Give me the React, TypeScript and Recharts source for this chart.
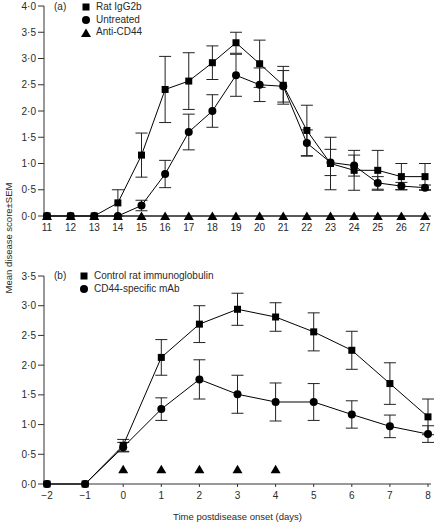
import React from 'react';
import { LineChart, Line, XAxis, YAxis, ErrorBar } from 'recharts';

// ---- Panel (a) data ----
const daysA = [11, 12, 13, 14, 15, 16, 17, 18, 19, 20, 21, 22, 23, 24, 25, 26, 27];
const ratIgG2b = [0, 0, 0, 0.25, 1.16, 2.41, 2.57, 2.92, 3.3, 2.9, 2.49, 1.63, 1.0, 0.87, 0.87, 0.75, 0.75];
const ratIgG2bErr = [0, 0, 0, 0.25, 0.42, 0.63, 0.54, 0.32, 0.2, 0.45, 0.36, 0.48, 0.5, 0.38, 0.38, 0.25, 0.25];
const untreated = [0, 0, 0, 0, 0.2, 0.8, 1.6, 2.0, 2.68, 2.5, 2.47, 1.39, 1.02, 0.96, 0.63, 0.57, 0.54];
const untreatedErr = [0, 0, 0, 0, 0.1, 0.26, 0.34, 0.31, 0.4, 0.32, 0.3, 0.25, 0.25, 0.2, 0.12, 0.07, 0.05];
const antiCD44 = [0, 0, 0, 0, 0, 0, 0, 0, 0, 0, 0, 0, 0, 0, 0, 0, 0];
const ticksA = [0, 0.5, 1, 1.5, 2, 2.5, 3, 3.5, 4];

// ---- Panel (b) data ----
const daysB = [-2, -1, 0, 1, 2, 3, 4, 5, 6, 7, 8];
const controlIg = [0, 0, 0.65, 2.13, 2.69, 2.94, 2.81, 2.56, 2.25, 1.69, 1.13];
const controlIgErr = [0, 0, 0.1, 0.3, 0.31, 0.27, 0.24, 0.32, 0.32, 0.35, 0.3];
const cd44mAb = [0, 0, 0.62, 1.26, 1.76, 1.51, 1.38, 1.38, 1.17, 0.97, 0.84];
const cd44mAbErr = [0, 0, 0.08, 0.19, 0.33, 0.32, 0.32, 0.31, 0.23, 0.19, 0.14];
const triangleB = [null, null, 0.25, 0.25, 0.25, 0.25, 0.25, null, null, null, null];
const ticksB = [0, 0.5, 1, 1.5, 2, 2.5, 3, 3.5];

const legendA = [
  { name: 'Rat IgG2b', shape: 'square' },
  { name: 'Untreated', shape: 'circle' },
  { name: 'Anti-CD44', shape: 'triangle' },
];
const legendB = [
  { name: 'Control rat immunoglobulin', shape: 'square' },
  { name: 'CD44-specific mAb', shape: 'circle' },
];

const dataA = daysA.map((d, i) => ({
  day: d,
  rat: ratIgG2b[i],
  ratErr: ratIgG2bErr[i],
  untr: untreated[i],
  untrErr: untreatedErr[i],
  anti: antiCD44[i],
}));

const dataB = daysB.map((d, i) => ({
  day: d,
  ctrl: controlIg[i],
  ctrlErr: controlIgErr[i],
  cd44: cd44mAb[i],
  cd44Err: cd44mAbErr[i],
  tri: triangleB[i],
}));

const FONT = '"Liberation Sans", Arial, Helvetica, sans-serif';
const TEXT = '#2a2a2a';
const AXIS = '#333';

const fmt = (v: number) => v.toFixed(1).replace('.', '\u00b7');

const SquareDot = (props: any) => {
  const { cx, cy } = props;
  if (cx == null || cy == null || isNaN(cy)) return <g />;
  return <rect x={cx - 3.5} y={cy - 3.5} width={7} height={7} fill="#000" />;
};
const TriangleDot = (props: any) => {
  const { cx, cy } = props;
  if (cx == null || cy == null || isNaN(cy)) return <g />;
  return <path d={`M${cx},${cy - 4.5}L${cx + 5},${cy + 4}L${cx - 5},${cy + 4}Z`} fill="#000" />;
};

const Icon = ({ shape }: { shape: string }) => (
  <svg width={10} height={10} style={{ display: 'inline-block', verticalAlign: 'middle', marginRight: 5 }}>
    {shape === 'square' && <rect x={1.5} y={1.5} width={7} height={7} fill="#000" />}
    {shape === 'circle' && <circle cx={5} cy={5} r={4} fill="#000" />}
    {shape === 'triangle' && <path d="M5,0.5L10,9L0,9Z" fill="#000" />}
  </svg>
);

const LegendBox = ({ items, top, left }: { items: { name: string; shape: string }[]; top: number; left: number }) => (
  <div style={{ position: 'absolute', top, left, fontFamily: FONT, fontSize: 10, color: TEXT, lineHeight: '12.5px' }}>
    {items.map((it) => (
      <div key={it.name} style={{ whiteSpace: 'nowrap' }}>
        <Icon shape={it.shape} />
        <span style={{ verticalAlign: 'middle' }}>{it.name}</span>
      </div>
    ))}
  </div>
);

const tickStyle = { fontSize: 10, fill: TEXT, fontFamily: FONT };

export default function App() {
  return (
    <div style={{ position: 'absolute', left: 0, top: 0, width: 435, height: 522, background: '#fff', fontFamily: FONT }}>
      {/* Panel (a) */}
      <div style={{ position: 'absolute', left: 0, top: 0 }}>
        <LineChart width={435} height={250} data={dataA} margin={{ top: 6, right: 4, bottom: 0, left: 0 }}>
          <XAxis
            dataKey="day"
            type="number"
            domain={[11, 27]}
            ticks={daysA}
            interval={0}
            padding={{ left: 3, right: 6 }}
            tickSize={0}
            tickMargin={8}
            height={34}
            stroke={AXIS}
            tick={tickStyle}
          />
          <YAxis
            type="number"
            domain={[0, 4]}
            ticks={ticksA}
            interval={0}
            width={44}
            tickSize={6}
            tickMargin={2}
            tickFormatter={fmt}
            stroke={AXIS}
            tick={tickStyle}
          />
          <Line dataKey="anti" stroke="#000" strokeWidth={1} dot={<TriangleDot />} isAnimationActive={false} />
          <Line dataKey="untr" stroke="#000" strokeWidth={1} dot={{ r: 4, fill: '#000', stroke: 'none' }} isAnimationActive={false}>
            <ErrorBar dataKey="untrErr" width={6} stroke="#222" strokeWidth={1} direction="y" />
          </Line>
          <Line dataKey="rat" stroke="#000" strokeWidth={1} dot={<SquareDot />} isAnimationActive={false}>
            <ErrorBar dataKey="ratErr" width={6} stroke="#222" strokeWidth={1} direction="y" />
          </Line>
        </LineChart>
      </div>

      {/* Panel (b) */}
      <div style={{ position: 'absolute', left: 0, top: 250 }}>
        <LineChart width={435} height={272} data={dataB} margin={{ top: 26, right: 4, bottom: 0, left: 0 }}>
          <XAxis
            dataKey="day"
            type="number"
            domain={[-2, 8]}
            ticks={daysB}
            interval={0}
            padding={{ left: 3, right: 3 }}
            tickSize={3}
            tickMargin={5}
            height={38}
            stroke={AXIS}
            tick={tickStyle}
            tickFormatter={(v: number) => (v < 0 ? `\u2212${Math.abs(v)}` : `${v}`)}
            label={{ value: 'Time postdisease onset (days)', position: 'insideBottom', offset: 2, style: { fontSize: 9.5, fill: TEXT, fontFamily: FONT } }}
          />
          <YAxis
            type="number"
            domain={[0, 3.5]}
            ticks={ticksB}
            interval={0}
            width={44}
            tickSize={6}
            tickMargin={2}
            tickFormatter={fmt}
            stroke={AXIS}
            tick={tickStyle}
          />
          <Line dataKey="tri" stroke="none" dot={<TriangleDot />} isAnimationActive={false} connectNulls={false} />
          <Line dataKey="cd44" stroke="#000" strokeWidth={1} dot={{ r: 4, fill: '#000', stroke: 'none' }} isAnimationActive={false}>
            <ErrorBar dataKey="cd44Err" width={6} stroke="#222" strokeWidth={1} direction="y" />
          </Line>
          <Line dataKey="ctrl" stroke="#000" strokeWidth={1} dot={<SquareDot />} isAnimationActive={false}>
            <ErrorBar dataKey="ctrlErr" width={6} stroke="#222" strokeWidth={1} direction="y" />
          </Line>
        </LineChart>
      </div>

      {/* Panel labels and legends */}
      <div style={{ position: 'absolute', left: 54, top: 1, fontSize: 10, color: TEXT, lineHeight: '12px' }}>(a)</div>
      <LegendBox items={legendA} top={1} left={81} />
      <div style={{ position: 'absolute', left: 54, top: 270, fontSize: 10, color: TEXT, lineHeight: '12px' }}>(b)</div>
      <LegendBox items={legendB} top={270} left={79} />

      {/* Shared y-axis title */}
      <div
        style={{
          position: 'absolute',
          left: 9,
          top: 238,
          transform: 'translate(-50%, -50%) rotate(-90deg)',
          whiteSpace: 'nowrap',
          fontSize: 9.5,
          color: TEXT,
          lineHeight: '12px',
        }}
      >
        Mean disease score±SEM
      </div>
    </div>
  );
}
